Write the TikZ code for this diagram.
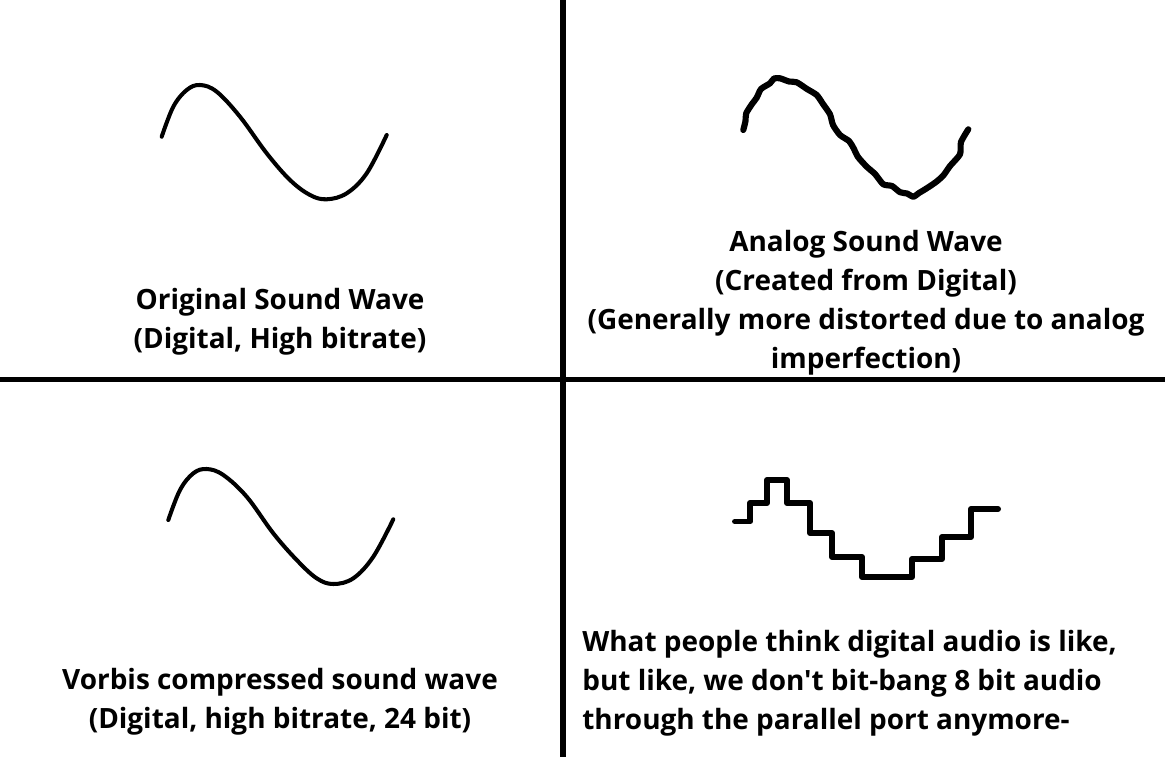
\documentclass[tikz,border=0pt]{standalone}
\usepackage{fontspec}
\setmainfont{Open Sans}
\setmonofont{Open Sans}
\begin{document}
\begin{tikzpicture}[x=0.02cm,y=-0.02cm,
  divider/.style={line width=2.9pt},
  sinewave/.style={line width=2.3pt,line cap=round,line join=round},
  roughwave/.style={line width=3.5pt,line cap=round,line join=round},
  stepwave/.style={line width=3.4pt,line cap=round,line join=round},
  label/.style={font=\ttfamily\fontsize{15.9pt}{22.2pt}\selectfont\bfseries,inner sep=0pt,align=center}]
\useasboundingbox[fill=white] (0,0) rectangle (1165,757);
% dividers
\coordinate (vt) at (563,0);
\coordinate (vb) at (563,757);
\coordinate (hl) at (0,379.5);
\coordinate (hr) at (1165,379.5);
\draw[divider] (vt) -- (vb);
\draw[divider] (hl) -- (hr);
% top-left sine
\draw[sinewave] plot[smooth,tension=0.6] coordinates {(161.7,136.7) (173.3,106.7) (186.7,90) (200,85) (216.7,91.7) (240,116.7) (266.7,153.3) (290,180) (310,195) (326.7,199.3) (346.7,193.3) (366.7,173.3) (386.7,135)};
% bottom-left sine
\draw[sinewave] plot[smooth,tension=0.6] coordinates {(168.3,520) (180,490) (193.3,473.3) (206.7,469) (223.3,475) (246.7,496.7) (273.3,533.3) (296.7,560) (316.7,578.3) (333.3,584) (353.3,578.3) (373.3,556.7) (393.3,519.3)};
% analog rough wave
\draw[roughwave] plot[smooth,tension=0.4] coordinates {(743.3,130) (745.5,121) (746.2,113.3) (752,104) (756.7,97.7) (761,89) (770,83.3) (774,78.5) (780,78.3) (789,81.5) (796.7,82.3) (807,89) (816.7,95) (823,104) (830,114.3) (833,125) (840,135) (849,141) (853.3,147.7) (858,157) (866.7,166.7) (875,174) (883.3,184.3) (892,186) (900,192.2) (907,193.5) (913.3,196.7) (919,193) (926.7,188.3) (936,182) (943.3,175.5) (950,166) (960,154.3) (961,142) (968.3,129.3)};
% stepped wave
\draw[stepwave] (735,521.5) -- (750,521.5) -- (750,503) -- (767,503) -- (767,480) -- (787,480) -- (787,503) -- (810,503) -- (810,533) -- (832,533) -- (832,557) -- (862,557) -- (862,577) -- (912,577) -- (912,559) -- (942,559) -- (942,537) -- (971,537) -- (971,509) -- (998,509);
% labels
\node[label] (tl) at (280,321.5) {Original Sound Wave\\(Digital, High bitrate)};
\node[label] (tr) at (866,302.5) {Analog Sound Wave\\(Created from Digital)\\(Generally more distorted due to analog\\imperfection)};
\node[label] (bl) at (280,701.5) {Vorbis compressed sound wave\\(Digital, high bitrate, 24 bit)};
\node[label,align=left,anchor=west] (br) at (582,683.5) {What people think digital audio is like,\\but like, we don't bit-bang 8 bit audio\\through the parallel port anymore-};
\end{tikzpicture}
\end{document}
